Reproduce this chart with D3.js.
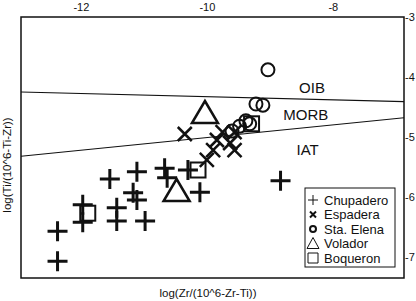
<!DOCTYPE html>
<html>
<head>
<meta charset="utf-8">
<script src="https://cdn.jsdelivr.net/npm/d3@7"></script>
<style>
  body { margin: 0; background: #fff; }
  text { font-family: "Liberation Sans", Arial, sans-serif; fill: #111; }
</style>
</head>
<body>
<div id="chart"></div>
<script>
// x = log(Zr/(10^6-Zr-Ti)), y = log(Ti/(10^6-Ti-Zr))
const chupadero = [
  [-12.37, -7.07], [-12.37, -6.57], [-11.97, -6.13], [-11.97, -6.42],
  [-11.43, -6.18], [-11.43, -6.40], [-10.98, -6.40], [-11.54, -5.70],
  [-11.11, -5.58], [-11.17, -5.93], [-11.11, -6.05], [-10.67, -5.52],
  [-10.63, -5.68], [-10.30, -5.55], [-10.11, -5.92], [-8.83, -5.73]
];
const espadera = [
  [-10.35, -4.95], [-10.00, -5.38], [-9.90, -5.22], [-9.84, -5.05],
  [-9.75, -4.92], [-9.63, -5.10], [-9.56, -5.22], [-9.56, -4.92]
];
const staElena = [
  [-9.03, -3.88], [-9.22, -4.45], [-9.11, -4.47], [-9.38, -4.73],
  [-9.48, -4.82], [-9.60, -4.90], [-9.32, -4.78]
];
const volador = [[-10.03, -4.60], [-10.48, -5.90]];
const boqueron = [[-11.89, -6.27], [-10.14, -5.55], [-9.29, -4.78]];

// field boundaries
const oibMorb = [[-12.95, -4.25], [-6.87, -4.41]];
const morbIat = [[-12.95, -5.32], [-6.87, -4.68]];
const fieldLabels = ["OIB", "MORB", "IAT"];
const fieldPos = [[-8.33, -4.18], [-8.43, -4.62], [-8.4, -5.2]];

const xTicks = [-12, -10, -8];
const yTicks = [-3, -4, -5, -6, -7];
const legendNames = ["Chupadero", "Espadera", "Sta. Elena", "Volador", "Boqueron"];

const W = 416, H = 301;
const svg = d3.select("#chart").append("svg").attr("width", W).attr("height", H);

const x = d3.scaleLinear().domain([-12.95, -6.87]).range([21, 404]);
const y = d3.scaleLinear().domain([-3, -7.35]).range([17, 278]);

svg.append("rect")
   .attr("x", 21).attr("y", 17).attr("width", 383).attr("height", 261)
   .attr("fill", "none").attr("stroke", "#111").attr("stroke-width", 1.5);

// axes: top and right, labels only
const topAxis = svg.append("g").attr("transform", "translate(0,17)")
   .call(d3.axisTop(x).tickValues(xTicks).tickSize(0).tickPadding(6).tickFormat(d => "-" + Math.abs(d)));
const rightAxis = svg.append("g").attr("transform", "translate(404,0)")
   .call(d3.axisRight(y).tickValues(yTicks).tickSize(0).tickPadding(1).tickFormat(d => "-" + Math.abs(d)));
[topAxis, rightAxis].forEach(g => {
  g.select(".domain").remove();
  g.selectAll("text").attr("font-size", 11).attr("font-family", "Liberation Sans, Arial, sans-serif").attr("fill", "#111");
});

const line = d3.line().x(d => x(d[0])).y(d => y(d[1]));
[oibMorb, morbIat].forEach(l => {
  svg.append("path").attr("d", line(l)).attr("fill", "none")
     .attr("stroke", "#111").attr("stroke-width", 1.1);
});

svg.selectAll(".field").data(fieldLabels).enter().append("text")
   .attr("x", (d, i) => x(fieldPos[i][0])).attr("y", (d, i) => y(fieldPos[i][1]))
   .attr("text-anchor", "middle").attr("dominant-baseline", "central")
   .attr("font-size", 15).text(d => d);

// markers
const pts = svg.append("g").attr("fill", "none").attr("stroke", "#111");

pts.selectAll(".plus").data(chupadero).enter().append("path")
   .attr("d", d => { const cx = x(d[0]), cy = y(d[1]), r = 10;
     return `M${cx - r},${cy}H${cx + r}M${cx},${cy - r}V${cy + r}`; })
   .attr("stroke-width", 3);

pts.selectAll(".cross").data(espadera).enter().append("path")
   .attr("d", d => { const cx = x(d[0]), cy = y(d[1]), r = 7;
     return `M${cx - r},${cy - r}L${cx + r},${cy + r}M${cx - r},${cy + r}L${cx + r},${cy - r}`; })
   .attr("stroke-width", 2.5);

pts.selectAll(".circ").data(staElena).enter().append("circle")
   .attr("cx", d => x(d[0])).attr("cy", d => y(d[1])).attr("r", 6.5)
   .attr("stroke-width", 2);

pts.selectAll(".tri").data(volador).enter().append("path")
   .attr("d", d => { const cx = x(d[0]), cy = y(d[1]);
     return `M${cx},${cy - 12}L${cx + 13},${cy + 10}L${cx - 13},${cy + 10}Z`; })
   .attr("stroke-width", 2.5);

pts.selectAll(".sq").data(boqueron).enter().append("rect")
   .attr("x", d => x(d[0]) - 7.5).attr("y", d => y(d[1]) - 7.5)
   .attr("width", 15).attr("height", 15)
   .attr("stroke-width", 2);

// legend
const lg = svg.append("g").attr("transform", "translate(305,188)");
lg.append("rect").attr("width", 90).attr("height", 79)
  .attr("fill", "#fff").attr("stroke", "#111").attr("stroke-width", 1);
const sym = [
  "M-5,0H5M0,-5V5",
  "M-3,-3L3,3M-3,3L3,-3",
  null,
  "M0,-6L6,5H-6Z",
  "M-5,-5H5V5H-5Z"
];
legendNames.forEach((name, i) => {
  const row = lg.append("g").attr("transform", `translate(8,${12 + i * 14.5})`);
  if (i === 2) {
    row.append("circle").attr("r", 3).attr("fill", "none").attr("stroke", "#111").attr("stroke-width", 2);
  } else {
    row.append("path").attr("d", sym[i]).attr("fill", "none").attr("stroke", "#111")
       .attr("stroke-width", i === 1 ? 2 : 1);
  }
  row.append("text").attr("x", 11).attr("dy", "0.35em").attr("font-size", 13).text(name);
});

// axis titles
svg.append("text").attr("x", 208).attr("y", 297).attr("text-anchor", "middle")
   .attr("font-size", 11.5).text("log(Zr/(10^6-Zr-Ti))");
svg.append("text").attr("transform", "translate(11,165) rotate(-90)")
   .attr("text-anchor", "middle").attr("font-size", 11.5).text("log(Ti/(10^6-Ti-Zr))");
</script>
</body>
</html>
